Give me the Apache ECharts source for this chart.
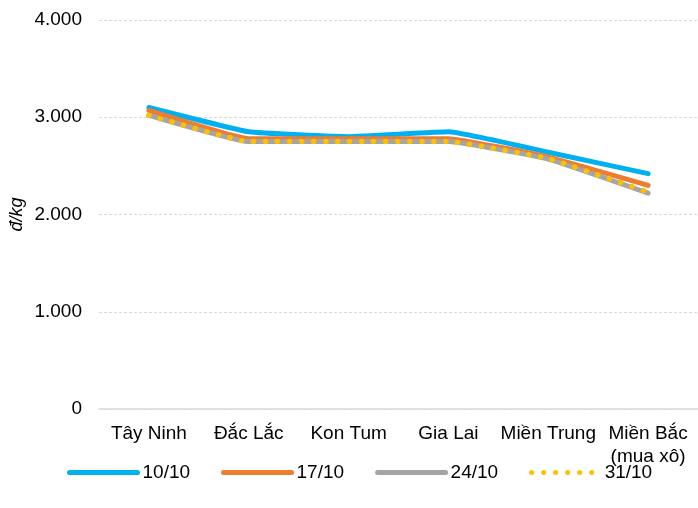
<!DOCTYPE html>
<html>
<head>
<meta charset="utf-8">
<script src="https://cdn.jsdelivr.net/npm/echarts@6/dist/echarts.min.js"></script>
<style>
  html, body { margin: 0; padding: 0; background: #fff; }
  #chart { width: 698px; height: 508px; }
</style>
</head>
<body>
<div id="chart"></div>
<script>
// Regions along the x axis
const regions = ['Tây Ninh', 'Đắc Lắc', 'Kon Tum', 'Gia Lai', 'Miền Trung', 'Miền Bắc\n(mua xô)'];

// Weekly prices, đ/kg
const week1010 = [3100, 2850, 2800, 2850, 2640, 2420];
const week1710 = [3070, 2780, 2780, 2780, 2590, 2300];
const week2410 = [3020, 2750, 2750, 2750, 2570, 2220];
const week3110 = [3020, 2750, 2750, 2750, 2575, 2230];

const seriesNames = ['10/10', '17/10', '24/10', '31/10'];

const FONT = '"Liberation Sans", Arial, sans-serif';

function fmtThousands(v) {
  return String(v).replace(/\B(?=(\d{3})+(?!\d))/g, '.');
}

function lineSeries(name, data, color, extra) {
  return {
    name: name,
    type: 'line',
    data: data,
    symbol: 'none',
    smooth: 0.1,
    lineStyle: Object.assign({ color: color, width: 5, cap: 'round', join: 'round' }, extra || {}),
    itemStyle: { color: color },
    emphasis: { disabled: true }
  };
}

const chart = echarts.init(document.getElementById('chart'), null, { renderer: 'canvas' });

chart.setOption({
  animation: false,
  backgroundColor: '#ffffff',
  textStyle: { fontFamily: FONT },
  grid: { left: 98, right: -2, top: 20, bottom: 99, containLabel: false },
  legend: {
    bottom: 21,
    left: 62,
    itemWidth: 68,
    itemHeight: 14,
    itemGap: 31,
    itemStyle: { opacity: 0 },
    lineStyle: { width: 5, cap: 'round' },
    textStyle: { fontFamily: FONT, fontSize: 19, color: '#000' },
    data: seriesNames
  },
  xAxis: {
    type: 'category',
    data: regions,
    boundaryGap: true,
    axisLine: { show: true, lineStyle: { color: '#D9D9D9', width: 1.5 } },
    axisTick: { show: false },
    axisLabel: {
      interval: 0,
      margin: 13,
      fontFamily: FONT,
      fontSize: 19,
      color: '#000',
      lineHeight: 23
    }
  },
  yAxis: {
    type: 'value',
    min: 0,
    max: 4000,
    interval: 1000,
    name: 'đ/kg',
    nameLocation: 'middle',
    nameRotate: 90,
    nameGap: 73,
    nameMoveOverlap: false,
    nameTextStyle: { fontFamily: FONT, fontSize: 18, fontStyle: 'italic', color: '#000' },
    axisLine: { show: false },
    axisTick: { show: false },
    axisLabel: {
      margin: 17,
      fontFamily: FONT,
      fontSize: 19,
      color: '#000',
      formatter: fmtThousands
    },
    splitLine: { show: true, lineStyle: { color: '#D9D9D9', type: [3, 2], width: 1 } }
  },
  series: [
    lineSeries(seriesNames[0], week1010, '#00B0F0'),
    lineSeries(seriesNames[1], week1710, '#ED7D31'),
    lineSeries(seriesNames[2], week2410, '#A5A5A5'),
    lineSeries(seriesNames[3], week3110, '#FFC000', { type: [0.01, 12], width: 5.5 })
  ]
});
</script>
</body>
</html>
